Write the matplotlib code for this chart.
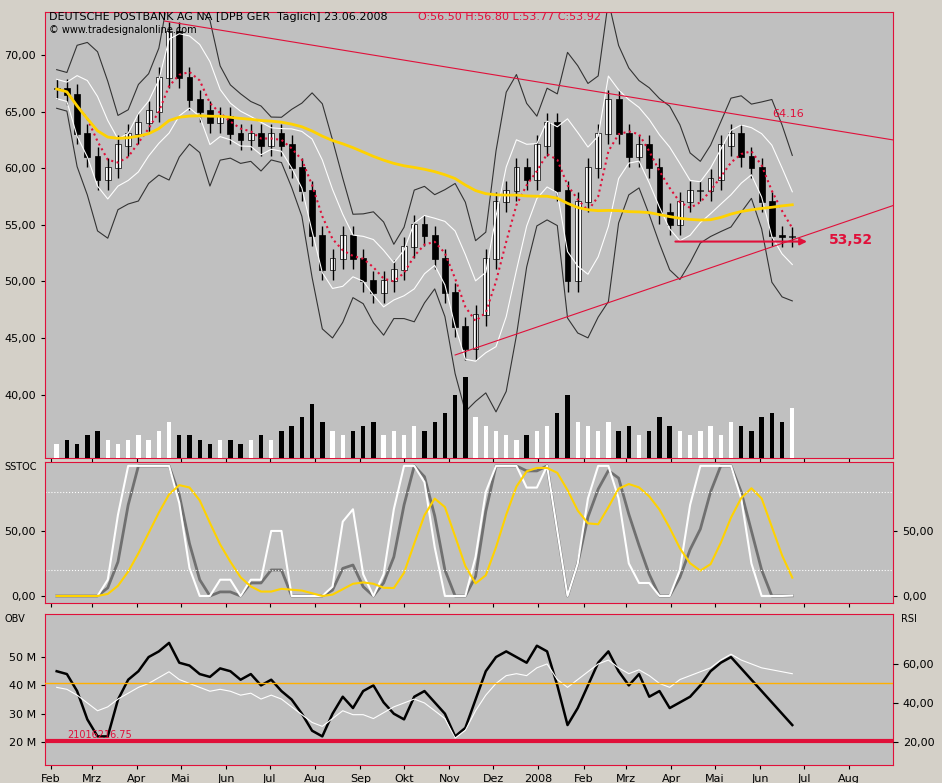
import numpy as np, pandas as pd, matplotlib
matplotlib.use("Agg")
import matplotlib.pyplot as plt
import matplotlib.dates as mdates

closes = [67,66.5,63,61,59, 60,62,63,64, 65,68,72,68, 66,65,64,64.5, 63,62.5,63,62,
          63,62,60,58,54, 51,52,54,52, 50,49,50,51,53, 55,54,52,49, 46,44,47,52,
          57,58,60,59, 62,64,58,50, 57,60,63,66, 63,61,62,60, 56,55,57,58,
          58,59,62,63, 61,60,57,54,53.9,53.92]
volume = [3,4,3,5,6, 4,3,4,5, 4,6,8,5, 5,4,3,4, 4,3,4,5, 4,6,7,9,12, 8,6,5,6,
          7,8,5,6,5, 7,6,8,10, 14,18,9,7, 6,5,4,5, 6,7,10,14, 8,7,6,8,
          6,7,5,6, 9,7,6,5, 6,7,5,8, 7,6,9,10,8,11]
obv_m = [45,44,38,28,22, 22,35,42,45, 50,52,55,48, 47,44,43,46, 45,42,44,40,
         42,38,35,30,24, 22,30,36,32, 38,40,34,30,28, 36,38,34,30, 22,25,35,45,
         50,52,50,48, 54,52,40,26, 32,40,48,52, 45,40,44,36, 38,32,34,36,
         40,45,48,50, 46,42,38,34,30,26]
rsi_v = [48,47,44,40,36, 38,42,45,48, 50,53,56,52, 50,48,46,47, 46,44,45,42,
         44,42,38,34,30, 28,32,36,34, 34,32,35,38,40, 42,40,36,32, 22,26,36,44,
         50,54,55,54, 58,60,52,48, 52,56,60,62, 58,55,57,54, 50,48,52,54,
         56,58,62,65, 62,60,58,57,56,55]
n = len(closes)
closes = np.array(closes, float); volume = np.array(volume[:n], float)
dates = pd.date_range(end="2008-06-23", periods=n, freq="W-MON")
opens = np.r_[closes[0], closes[:-1]]
highs = np.maximum(opens, closes) + 0.9
lows = np.minimum(opens, closes) - 0.9
s = pd.Series(closes)
sma4 = s.rolling(4, min_periods=1).mean()
sma40 = s.rolling(40, min_periods=1).mean()
sd = s.rolling(5, min_periods=2).std().bfill()
bu, bl = sma4 + 2*sd + 1, sma4 - 2*sd - 1
wu, wl = sma4 + sd + .5, sma4 - sd - .5

bg = "#c0c0c0"; red = "#e0103a"
fig = plt.figure(figsize=(9.42, 7.83), dpi=100)
fig.patch.set_facecolor("#d4d0c8")
L, W = 45/942, 848/942
ax = fig.add_axes([L, 1-458/783, W, 446/783])
ax2 = fig.add_axes([L, 1-603/783, W, 141/783], sharex=ax)
ax3 = fig.add_axes([L, 1-765/783, W, 151/783], sharex=ax)
for a in (ax, ax2, ax3):
    a.set_facecolor(bg)
    for sp in a.spines.values(): sp.set_color(red)
    a.tick_params(labelsize=8, length=3, right=True, labelright=True)
x = mdates.date2num(dates)
axv = ax.twinx(); axv.set_ylim(0, volume.max()*5.5); axv.axis("off")
cols = ["white" if c >= o else "black" for c, o in zip(closes, opens)]
axv.bar(x, volume, width=3, color=cols)
ax.vlines(x, lows, highs, color="black", lw=1)
ax.bar(x, np.abs(closes-opens)+0.1, bottom=np.minimum(opens, closes), width=4,
       color=cols, edgecolor="black", lw=.5)
ax.plot(x, bu, color="#333", lw=.8); ax.plot(x, bl, color="#333", lw=.8)
ax.plot(x, wu, color="white", lw=.8); ax.plot(x, wl, color="white", lw=.8)
ax.plot(x, sma4, color=red, ls=":", lw=1.5)
ax.plot(x, sma40, color="#ffd200", lw=2)
ax.set_ylim(34.4, 73.8)
x0 = mdates.date2num(pd.Timestamp("2007-01-28")); x1 = mdates.date2num(pd.Timestamp("2008-08-31"))
ax.set_xlim(x0, x1)
xa, xb = mdates.date2num(pd.Timestamp("2007-04-20")), mdates.date2num(pd.Timestamp("2007-11-05"))
ax.plot([xa, x1], [73, 62.5], color=red, lw=.8)
ax.plot([xb, x1], [43.5, 56.7], color=red, lw=.8)
xr = mdates.date2num(pd.Timestamp("2008-04-02"))
ax.annotate("", xy=(x[-1]+12, 53.52), xytext=(xr, 53.52),
            arrowprops=dict(arrowstyle="-|>", color=red, lw=1.5))
ax.text(x[-1]+25, 53.3, "53,52", color=red, fontsize=10, fontweight="bold")
ax.text(x[-3], 64.5, "64.16", color=red, fontsize=8)
ax.set_yticks([40, 45, 50, 55, 60, 65, 70])
ax.set_yticklabels(["40,00", "45,00", "50,00", "55,00", "60,00", "65,00", "70,00"])
ax.text(0.005, 1.0, "DEUTSCHE POSTBANK AG NA [DPB GER  Täglich] 23.06.2008 ", transform=ax.transAxes,
        fontsize=8, va="top")
ax.text(0.44, 1.0, "O:56.50 H:56.80 L:53.77 C:53.92", transform=ax.transAxes, fontsize=8, va="top", color=red)
ax.text(0.005, 0.97, "© www.tradesignalonline.com", transform=ax.transAxes, fontsize=7, va="top")
def stoch(w):
    lo = s.rolling(w, min_periods=1).min(); hi = s.rolling(w, min_periods=1).max()
    return ((s - lo) / (hi - lo).replace(0, 1) * 100).rolling(2, min_periods=1).mean()
k, k2 = stoch(4), stoch(6)
slow = stoch(10).rolling(4, min_periods=1).mean()
ax2.plot(x, k2, color="#707070", lw=2)
ax2.plot(x, k, color="white", lw=1.5)
ax2.plot(x, slow, color="#ffd200", lw=1.5)
for v in (20, 80): ax2.axhline(v, color="white", ls=":", lw=.8)
ax2.set_ylim(-5.4, 103); ax2.set_yticks([0, 50]); ax2.set_yticklabels(["0,00", "50,00"])
ax2.text(-0.048, 1.0, "SSTOC", transform=ax2.transAxes, fontsize=7, va="top")
ax3.plot(x, obv_m[:n], color="black", lw=1.8)
ax3.set_ylim(11.9, 65.2); ax3.set_yticks([20, 30, 40, 50])
ax3.set_yticklabels(["20 M", "30 M", "40 M", "50 M"])
ax3.axhline(20.5, color=red, lw=3)
ax3.text(x[1], 21.5, "21016216.75", color=red, fontsize=7)
ax3.text(-0.048, 1.0, "OBV", transform=ax3.transAxes, fontsize=7, va="top")
axr = ax3.twinx(); axr.set_ylim(8.2, 85.6)
axr.plot(x, rsi_v[:n], color="white", lw=.8)
axr.axhline(50, color="#ffb000", lw=1)
axr.set_yticks([20, 40, 60]); axr.set_yticklabels(["20,00", "40,00", "60,00"])
axr.tick_params(labelsize=8); axr.spines[:].set_visible(False)
axr.text(1.01, 1.0, "RSI", transform=ax3.transAxes, fontsize=7, va="top")
ax3.tick_params(right=False, labelright=False)
ax3.xaxis.set_major_locator(mdates.MonthLocator())
names = ["Jan", "Feb", "Mrz", "Apr", "Mai", "Jun", "Jul", "Aug", "Sep", "Okt", "Nov", "Dez"]
ax3.xaxis.set_major_formatter(plt.FuncFormatter(lambda v, p: (
    lambda d: "2008" if (d.month == 1 and d.year == 2008) else names[d.month-1])(mdates.num2date(v))))
plt.setp(ax.get_xticklabels(), visible=False); plt.setp(ax2.get_xticklabels(), visible=False)
ax3.set_xlim(x0, x1)
fig.savefig("out.png", dpi=100, facecolor=fig.get_facecolor())
